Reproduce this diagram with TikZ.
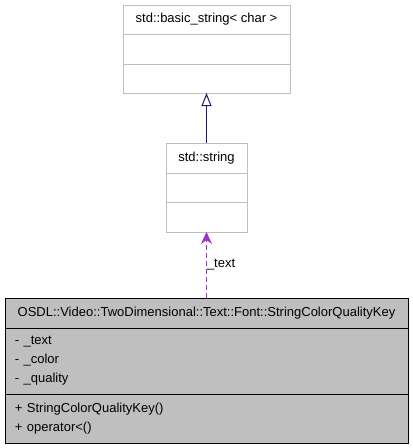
\documentclass[tikz,border=0pt]{standalone}
\usepackage{fontspec}
\setmainfont{Liberation Sans}
\usetikzlibrary{arrows.meta, positioning}
\definecolor{colorFrame}{HTML}{BFBFBF}
\definecolor{colorKeyFill}{HTML}{BFBFBF}
\definecolor{colorInherit}{HTML}{191970}
\definecolor{colorUsage}{HTML}{9A32CD}
\tikzset{
  classbox/.style={draw=colorFrame, fill=white, line width=1pt, outer sep=0pt},
  keybox/.style={draw=black, fill=colorKeyFill, line width=1pt, outer sep=0pt,
    minimum width=403pt, text width=383pt, inner xsep=10pt},
  inherit/.style={-{Triangle[open, length=13pt, width=10pt, fill=white]}, colorInherit, line width=1pt},
  usage/.style={-{Stealth[length=12pt, width=11pt, inset=4pt]}, colorUsage, line width=1pt, dash pattern=on 5pt off 3pt}
}

\begin{document}
\begin{tikzpicture}[x=1pt, y=1pt, node distance=0pt, every node/.style={font=\fontsize{13}{16}\selectfont, inner sep=0pt}]
\useasboundingbox (0,0) rectangle (413,-448);
% the key class
\node[keybox, minimum height=30pt, align=center, anchor=north west] (keyname) at (5,-298) {OSDL::Video::TwoDimensional::Text::Font::StringColorQualityKey};
\node[keybox, minimum height=66pt, align=left, below=of keyname, font=\fontsize{13}{19}\selectfont] (keyattr) {- \_text\\- \_color\\- \_quality};
\node[keybox, minimum height=49pt, align=left, below=of keyattr, font=\fontsize{13}{19}\selectfont] (keyops) {+ StringColorQualityKey()\\+ operator\textless()};
% std::string
\node[classbox, minimum width=81pt, minimum height=30pt, above=66pt of keyname] (strops) {};
\node[classbox, minimum width=81pt, minimum height=29pt, above=of strops] (strattr) {};
\node[classbox, minimum width=81pt, minimum height=30pt, above=of strattr] (strname) {std::string};
% std::basic_string
\node[classbox, minimum width=167pt, minimum height=29pt, above=50pt of strname] (basicops) {};
\node[classbox, minimum width=167pt, minimum height=30pt, above=of basicops] (basicattr) {};
\node[classbox, minimum width=167pt, minimum height=29pt, above=of basicattr] (basicname) {std::basic\_string\textless{} char \textgreater};
\draw[inherit] (strname) -- (basicops);
\draw[usage] (keyname) -- node[right, solid, black] {\_text} (strops);
\end{tikzpicture}
\end{document}
